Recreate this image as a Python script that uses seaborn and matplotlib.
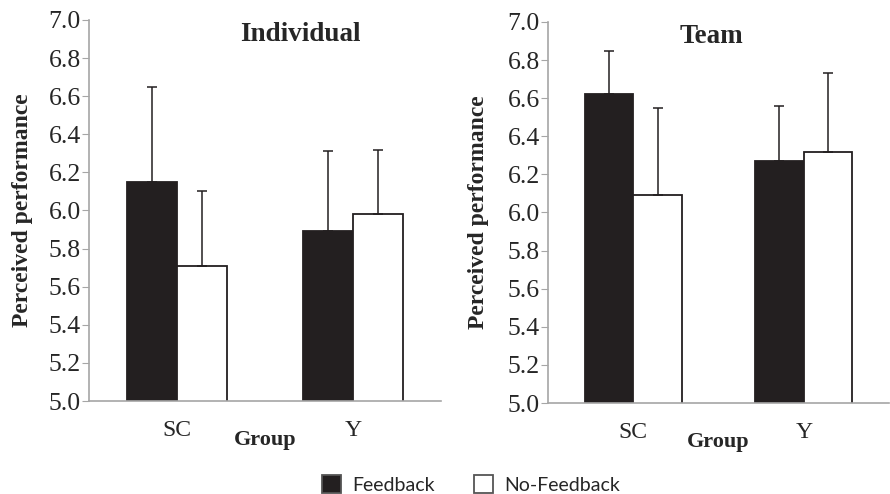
import numpy as np
import pandas as pd
import seaborn as sns
import matplotlib.pyplot as plt

# data
groups = ["SC", "Y"]
conditions = ["Feedback", "No-Feedback"]

indiv_feedback = [6.15, 5.89]
indiv_nofeedback = [5.71, 5.98]
indiv_feedback_err = [0.50, 0.42]
indiv_nofeedback_err = [0.39, 0.34]

team_feedback = [6.62, 6.27]
team_nofeedback = [6.09, 6.32]
team_feedback_err = [0.23, 0.29]
team_nofeedback_err = [0.46, 0.41]

yticks = [5.0, 5.2, 5.4, 5.6, 5.8, 6.0, 6.2, 6.4, 6.6, 6.8, 7.0]

sns.set_style("white")
plt.rcParams['font.family'] = ['Liberation Serif', 'DejaVu Serif']
SERIF = 'Liberation Serif'

BAR_DARK = "#231f20"
AXIS_GREY = "#a6a6a6"


def make_frame(fb, nfb, fb_err, nfb_err):
    rows = []
    for g, m, e in zip(groups, fb, fb_err):
        rows.append({'Group': g, 'Condition': conditions[0], 'Mean': m, 'Err': e})
    for g, m, e in zip(groups, nfb, nfb_err):
        rows.append({'Group': g, 'Condition': conditions[1], 'Mean': m, 'Err': e})
    return pd.DataFrame(rows)


def draw_panel(ax, df, title, title_x, right_lim, ylab_x):
    sns.barplot(data=df, x='Group', y='Mean', hue='Condition', order=groups,
                hue_order=conditions, palette=[BAR_DARK, "white"], width=0.57,
                errorbar=None, legend=False, ax=ax, edgecolor=BAR_DARK,
                linewidth=1.3, saturation=1)
    # one-sided error bars, like Excel
    for cont, cond in zip(ax.containers, conditions):
        sub = df[df['Condition'] == cond].set_index('Group').loc[groups]
        xs = [p.get_x() + p.get_width() / 2 for p in cont.patches]
        errs = sub['Err'].values
        ax.errorbar(xs, sub['Mean'].values, yerr=[np.zeros(len(errs)), errs],
                    fmt='none', ecolor=BAR_DARK, elinewidth=1.1, capsize=3.5,
                    capthick=1.1, zorder=1)
    ax.set_ylim(5.0, 7.0)
    ax.set_xlim(-0.5, right_lim)
    ax.set_yticks(yticks)
    ax.set_yticklabels([f"{t:.1f}" for t in yticks], fontsize=18.5, family=SERIF)
    ax.set_xticklabels(groups, fontsize=17, family=SERIF)
    ax.set_xticks([-0.5, 0.5, 1.5], minor=True)
    ax.tick_params(axis='x', which='major', length=0, pad=14)
    ax.tick_params(axis='x', which='minor', length=5, color=AXIS_GREY, direction='out')
    ax.tick_params(axis='y', length=5, color=AXIS_GREY, direction='out', pad=1, left=True)
    for side in ['top', 'right']:
        ax.spines[side].set_visible(False)
    for side in ['left', 'bottom']:
        ax.spines[side].set_color(AXIS_GREY)
        ax.spines[side].set_linewidth(1.2)
    ax.set_ylabel("Perceived performance", fontsize=17, fontweight='bold', family=SERIF)
    ax.yaxis.set_label_coords(ylab_x, 0.5)
    ax.set_xlabel("Group", fontsize=16, fontweight='bold', family=SERIF)
    ax.xaxis.set_label_coords(0.5, -0.075)
    ax.text(title_x, 0.962, title, transform=ax.transAxes, ha='center', va='center',
            fontsize=19.5, fontweight='bold', family=SERIF)


fig = plt.figure(figsize=(8.9, 4.94), dpi=100)
ax1 = fig.add_axes([89 / 890, 1 - 401 / 494, 352 / 890, 381 / 494])
ax2 = fig.add_axes([548 / 890, 1 - 403 / 494, 341 / 890, 381 / 494])

df_ind = make_frame(indiv_feedback, indiv_nofeedback, indiv_feedback_err, indiv_nofeedback_err)
df_team = make_frame(team_feedback, team_nofeedback, team_feedback_err, team_nofeedback_err)

draw_panel(ax1, df_ind, "Individual", 0.60, 1.5, -0.158)
draw_panel(ax2, df_team, "Team", 0.48, 1.46, -0.172)

handles = [ax1.containers[0], ax1.containers[1]]
leg = fig.legend(handles, conditions, loc='lower center', bbox_to_anchor=(0.529, -0.035),
                 ncol=2, frameon=False, handlelength=1.0, handleheight=1.0,
                 columnspacing=2.0, handletextpad=0.55,
                 prop={'family': ['Lato', 'DejaVu Sans'], 'size': 14})
for h in leg.legend_handles:
    h.set_edgecolor("#555555")

fig.savefig("out.png", dpi=100)
